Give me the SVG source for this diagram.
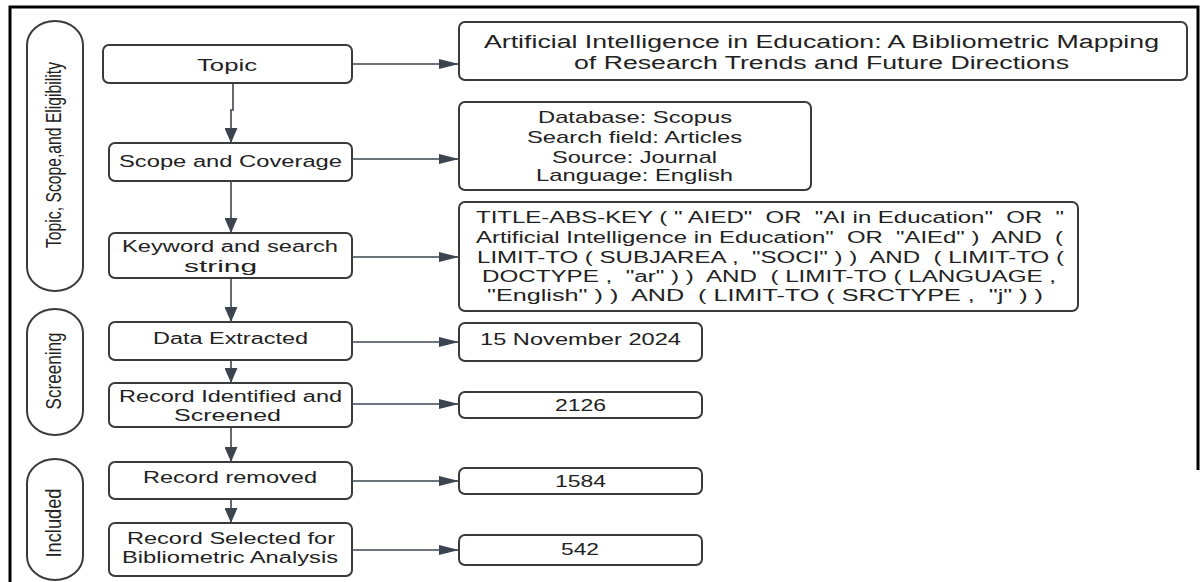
<svg xmlns="http://www.w3.org/2000/svg" width="1203" height="582" viewBox="0 0 1203 582">
  <style>
    .box { fill: #ffffff; stroke: #3a3a3a; stroke-width: 2; }
    .lane { fill: #ffffff; stroke: #3a3a3a; stroke-width: 2; }
    .t { font-family: "Liberation Sans", Arial, sans-serif; fill: #222222; text-anchor: middle; white-space: pre; }
    .f16 { font-size: 16px; }
    .f17 { font-size: 17px; }
    .f18 { font-size: 18px; }
    .lt { font-size: 15px; }
    .conn { fill: none; stroke: #3c4450; stroke-width: 1.6; }
  </style>
  <defs>
    <marker id="ah" markerUnits="userSpaceOnUse" markerWidth="20" markerHeight="10" refX="20" refY="5" orient="auto">
      <path d="M0,0 L20,5 L0,10 Z" fill="#3c4450"/>
    </marker>
    <marker id="av" markerUnits="userSpaceOnUse" markerWidth="15" markerHeight="13" refX="15" refY="6.5" orient="auto">
      <path d="M0,0 L15,6.5 L0,13 Z" fill="#3c4450"/>
    </marker>
  </defs>
  <rect x="0" y="0" width="1203" height="582" fill="#ffffff"/>
  <path d="M10,582 V7 H1198 V470" fill="none" stroke="#000000" stroke-width="3"/>

  <g id="lane-topic">
    <rect class="lane" x="27" y="21" width="56" height="270" rx="28" ry="24"/>
    <text class="t lt" transform="translate(61,155) scale(1.45,1) rotate(-90)" textLength="186" lengthAdjust="spacingAndGlyphs">Topic, Scope,and Eligibility</text>
  </g>
  <g id="lane-screening">
    <rect class="lane" x="27" y="309" width="56" height="126" rx="28" ry="24"/>
    <text class="t lt" transform="translate(61,371) scale(1.45,1) rotate(-90)" textLength="77" lengthAdjust="spacingAndGlyphs">Screening</text>
  </g>
  <g id="lane-included">
    <rect class="lane" x="27" y="459" width="56" height="121" rx="28" ry="24"/>
    <text class="t lt" transform="translate(61,523) scale(1.45,1) rotate(-90)" textLength="69" lengthAdjust="spacingAndGlyphs">Included</text>
  </g>

  <g id="n-topic">
    <rect class="box" x="103" y="45" width="249" height="38" rx="6"/>
    <text class="t f16" x="227" y="71" textLength="60" lengthAdjust="spacingAndGlyphs">Topic</text>
  </g>
  <g id="n-scope">
    <rect class="box" x="109" y="143" width="243" height="38" rx="6"/>
    <text class="t f16" x="230.5" y="167" textLength="223" lengthAdjust="spacingAndGlyphs">Scope and Coverage</text>
  </g>
  <g id="n-keyword">
    <rect class="box" x="109" y="233" width="243" height="45" rx="6"/>
    <text class="t f16" x="230" y="252" textLength="216" lengthAdjust="spacingAndGlyphs">Keyword and search</text>
    <text class="t f16" x="220.5" y="272" textLength="73" lengthAdjust="spacingAndGlyphs">string</text>
  </g>
  <g id="n-data">
    <rect class="box" x="109" y="322" width="243" height="38" rx="6"/>
    <text class="t f16" x="230.5" y="344" textLength="155" lengthAdjust="spacingAndGlyphs">Data Extracted</text>
  </g>
  <g id="n-identified">
    <rect class="box" x="109" y="383" width="243" height="44" rx="6"/>
    <text class="t f16" x="230.5" y="402" textLength="223" lengthAdjust="spacingAndGlyphs">Record Identified and</text>
    <text class="t f16" x="227.5" y="421" textLength="107" lengthAdjust="spacingAndGlyphs">Screened</text>
  </g>
  <g id="n-removed">
    <rect class="box" x="109" y="462" width="243" height="37" rx="6"/>
    <text class="t f16" x="230" y="483" textLength="174" lengthAdjust="spacingAndGlyphs">Record removed</text>
  </g>
  <g id="n-selected">
    <rect class="box" x="109" y="523" width="243" height="53" rx="6"/>
    <text class="t f16" x="231" y="544" textLength="208" lengthAdjust="spacingAndGlyphs">Record Selected for</text>
    <text class="t f16" x="230" y="563" textLength="216" lengthAdjust="spacingAndGlyphs">Bibliometric Analysis</text>
  </g>

  <g id="r-title">
    <rect class="box" x="459" y="22" width="728" height="58" rx="6"/>
    <text class="t f18" x="821.5" y="48" textLength="675" lengthAdjust="spacingAndGlyphs">Artificial Intelligence in Education: A Bibliometric Mapping</text>
    <text class="t f18" x="821.5" y="69" textLength="495" lengthAdjust="spacingAndGlyphs">of Research Trends and Future Directions</text>
  </g>
  <g id="r-coverage">
    <rect class="box" x="459" y="102" width="352" height="88" rx="6"/>
    <text class="t f17" x="635" y="123" textLength="194" lengthAdjust="spacingAndGlyphs">Database: Scopus</text>
    <text class="t f17" x="634.5" y="143" textLength="215" lengthAdjust="spacingAndGlyphs">Search field: Articles</text>
    <text class="t f17" x="634.5" y="163" textLength="165" lengthAdjust="spacingAndGlyphs">Source: Journal</text>
    <text class="t f17" x="634.5" y="181" textLength="197" lengthAdjust="spacingAndGlyphs">Language: English</text>
  </g>
  <g id="r-search">
    <rect class="box" x="459" y="202" width="619" height="109" rx="6"/>
    <text class="t f16" x="770" y="223" textLength="588" lengthAdjust="spacingAndGlyphs">TITLE-ABS-KEY ( " AIED"  OR  "AI in Education"  OR  "</text>
    <text class="t f16" x="769.5" y="243" textLength="587" lengthAdjust="spacingAndGlyphs">Artificial Intelligence in Education"  OR  "AIEd" )  AND  (</text>
    <text class="t f16" x="770.5" y="263" textLength="587" lengthAdjust="spacingAndGlyphs">LIMIT-TO ( SUBJAREA ,  "SOCI" ) )  AND  ( LIMIT-TO (</text>
    <text class="t f16" x="769" y="282" textLength="574" lengthAdjust="spacingAndGlyphs">DOCTYPE ,  "ar" ) )  AND  ( LIMIT-TO ( LANGUAGE ,</text>
    <text class="t f16" x="765" y="301" textLength="556" lengthAdjust="spacingAndGlyphs">"English" ) )  AND  ( LIMIT-TO ( SRCTYPE ,  "j" ) )</text>
  </g>
  <g id="r-date">
    <rect class="box" x="459" y="323" width="243" height="38" rx="6"/>
    <text class="t f17" x="580.5" y="345" textLength="201" lengthAdjust="spacingAndGlyphs">15 November 2024</text>
  </g>
  <g id="r-2126">
    <rect class="box" x="459" y="392" width="243" height="26" rx="6"/>
    <text class="t f16" x="580.5" y="411" textLength="51" lengthAdjust="spacingAndGlyphs">2126</text>
  </g>
  <g id="r-1584">
    <rect class="box" x="459" y="468" width="243" height="26" rx="6"/>
    <text class="t f16" x="580.5" y="487" textLength="51" lengthAdjust="spacingAndGlyphs">1584</text>
  </g>
  <g id="r-542">
    <rect class="box" x="459" y="535" width="243" height="30" rx="6"/>
    <text class="t f16" x="580" y="555" textLength="38" lengthAdjust="spacingAndGlyphs">542</text>
  </g>

  <g id="connectors">
    <path class="conn" d="M233,83 V110 H231 V143" marker-end="url(#av)"/>
    <path class="conn" d="M231,181 V233" marker-end="url(#av)"/>
    <path class="conn" d="M231,278 V322" marker-end="url(#av)"/>
    <path class="conn" d="M231,360 V383" marker-end="url(#av)"/>
    <path class="conn" d="M231,427 V462" marker-end="url(#av)"/>
    <path class="conn" d="M231,499 V523" marker-end="url(#av)"/>
    <path class="conn" d="M352,64 H459" marker-end="url(#ah)"/>
    <path class="conn" d="M352,159 H459" marker-end="url(#ah)"/>
    <path class="conn" d="M352,257 H459" marker-end="url(#ah)"/>
    <path class="conn" d="M352,342 H459" marker-end="url(#ah)"/>
    <path class="conn" d="M352,404 H459" marker-end="url(#ah)"/>
    <path class="conn" d="M352,481 H459" marker-end="url(#ah)"/>
    <path class="conn" d="M352,550 H459" marker-end="url(#ah)"/>
  </g>
</svg>
